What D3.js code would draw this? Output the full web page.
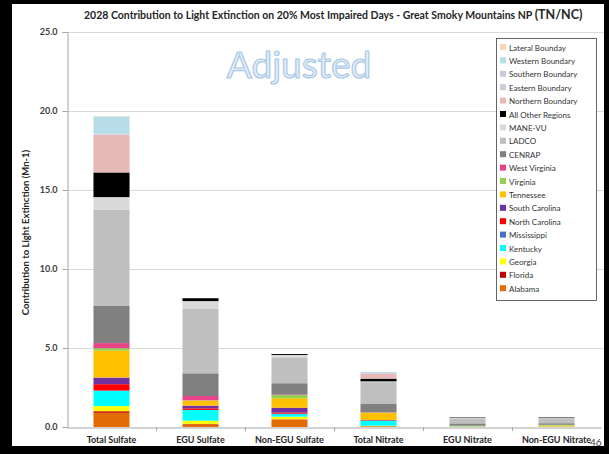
<!DOCTYPE html>
<html>
<head>
<meta charset="utf-8">
<script src="https://cdn.jsdelivr.net/npm/d3@7"></script>
<style>
  html, body { margin: 0; padding: 0; background: #000; }
  svg { display: block; }
  text { font-family: Lato, "Open Sans", "Liberation Sans", sans-serif; }
</style>
</head>
<body>
<svg id="chart" width="609" height="454"></svg>
<script>
// ---------------- DATA ----------------
const categories = ["Total Sulfate", "EGU Sulfate", "Non-EGU Sulfate", "Total Nitrate", "EGU Nitrate", "Non-EGU Nitrate"];

// series values per category (Mm-1), stacked bottom -> top in this order
const alabama        = [0.90, 0.18, 0.47, 0.05, 0.01, 0.01];
const florida        = [0.10, 0.02, 0.02, 0.00, 0.00, 0.00];
const georgia        = [0.32, 0.20, 0.16, 0.03, 0.00, 0.01];
const kentucky       = [0.97, 0.68, 0.17, 0.30, 0.03, 0.01];
const mississippi    = [0.02, 0.00, 0.02, 0.02, 0.00, 0.00];
const northCarolina  = [0.40, 0.10, 0.08, 0.02, 0.00, 0.00];
const southCarolina  = [0.42, 0.17, 0.30, 0.02, 0.00, 0.00];
const tennessee      = [1.71, 0.32, 0.60, 0.45, 0.03, 0.06];
const virginia       = [0.15, 0.02, 0.20, 0.03, 0.01, 0.04];
const westVirginia   = [0.32, 0.27, 0.04, 0.02, 0.00, 0.01];
const cenrap         = [2.38, 1.44, 0.71, 0.55, 0.15, 0.10];
const ladco          = [6.05, 4.07, 1.64, 1.35, 0.32, 0.32];
const manevu         = [0.81, 0.50, 0.15, 0.05, 0.02, 0.03];
const allOther       = [1.56, 0.18, 0.06, 0.17, 0.03, 0.03];
const northernBnd    = [2.38, 0.00, 0.00, 0.31, 0.00, 0.00];
const easternBnd     = [0.02, 0.00, 0.00, 0.02, 0.00, 0.00];
const southernBnd    = [0.05, 0.00, 0.00, 0.03, 0.00, 0.00];
const westernBnd     = [1.10, 0.00, 0.00, 0.06, 0.00, 0.00];
const lateralBnd     = [0.02, 0.00, 0.00, 0.00, 0.00, 0.00];

const seriesNames = ["Alabama", "Florida", "Georgia", "Kentucky", "Mississippi", "North Carolina",
  "South Carolina", "Tennessee", "Virginia", "West Virginia", "CENRAP", "LADCO", "MANE-VU",
  "All Other Regions", "Northern Boundary", "Eastern Boundary", "Southern Boundary",
  "Western Boundary", "Lateral Bounday"];
const seriesValues = [alabama, florida, georgia, kentucky, mississippi, northCarolina,
  southCarolina, tennessee, virginia, westVirginia, cenrap, ladco, manevu, allOther,
  northernBnd, easternBnd, southernBnd, westernBnd, lateralBnd];
const seriesColors = ["#E36C09", "#C00000", "#FFFF00", "#00FFFF", "#4472C4", "#FF0000",
  "#7030A0", "#FFC000", "#92D050", "#E8428A", "#808080", "#BFBFBF", "#D9D9D9",
  "#000000", "#E6B9B8", "#CCCCDC", "#C9C9D9", "#B7DDE8", "#FBD5B5"];

const yTicks = [0, 5, 10, 15, 20, 25];
const yMax = 25;

// ---------------- LAYOUT ----------------
const svg = d3.select("#chart");
const W = 609, H = 454;
const plot = { left: 67, right: 601, top: 32, bottom: 427 };

// frame
svg.append("rect").attr("x", 0).attr("y", 0).attr("width", W).attr("height", H).attr("fill", "#000");
svg.append("rect").attr("x", 12).attr("y", 4).attr("width", 592).attr("height", 442).attr("fill", "#fff");

const x = d3.scaleBand().domain(categories).range([plot.left, plot.right]).padding(0);
const y = d3.scaleLinear().domain([0, yMax]).range([plot.bottom, plot.top]);
const color = d3.scaleOrdinal().domain(seriesNames).range(seriesColors);
const barW = x.bandwidth() * 0.405;

// gridlines
svg.append("g").selectAll("line").data(yTicks.filter(d => d > 0)).join("line")
  .attr("x1", plot.left).attr("x2", 604)
  .attr("y1", d => Math.round(y(d)) + 0.5).attr("y2", d => Math.round(y(d)) + 0.5)
  .attr("stroke", "#D9D9D9").attr("stroke-width", 1);

// Watermark
svg.append("text")
  .attr("x", 299).attr("y", 78)
  .attr("text-anchor", "middle")
  .attr("font-size", 37)
  .attr("font-weight", 400)
  .attr("fill", "#E4EEF8")
  .attr("stroke", "#A9C8E6")
  .attr("stroke-width", 1.2)
  .text("Adjusted");

// stacked data
const rows = categories.map((c, i) => {
  const r = { category: c };
  seriesNames.forEach((s, k) => { r[s] = seriesValues[k][i]; });
  return r;
});
const stack = d3.stack().keys(seriesNames);
const stacked = stack(rows);

svg.append("g").selectAll("g").data(stacked).join("g")
  .attr("fill", d => color(d.key))
  .selectAll("rect").data(d => d).join("rect")
  .attr("x", d => x(d.data.category) + (x.bandwidth() - barW) / 2)
  .attr("width", barW)
  .attr("y", d => y(d[1]))
  .attr("height", d => Math.max(0, y(d[0]) - y(d[1])));

// Y axis
const yAxis = d3.axisLeft(y).tickValues(yTicks).tickFormat(d3.format(".1f")).tickSize(5).tickPadding(5);
const gy = svg.append("g").attr("transform", `translate(${plot.left + 0.5},0)`).call(yAxis);
gy.select(".domain").attr("stroke", "#A6A6A6");
gy.selectAll(".tick line").attr("stroke", "#A6A6A6");
gy.selectAll(".tick text").attr("font-size", 9).attr("font-weight", 700).attr("fill", "#404040")
  .attr("font-family", "Lato, sans-serif");

// X axis
const xAxis = d3.axisBottom(x).tickSize(0).tickPadding(9);
const gx = svg.append("g").attr("transform", `translate(0,${plot.bottom + 0.5})`).call(xAxis);
gx.select(".domain").attr("stroke", "#A6A6A6");
gx.selectAll(".tick text").attr("font-size", 9).attr("font-weight", 700).attr("fill", "#262626")
  .attr("font-family", "Lato, sans-serif");
// separator ticks between categories
svg.append("g").selectAll("line").data(categories.slice(1)).join("line")
  .attr("x1", d => Math.round(x(d)) + 0.5).attr("x2", d => Math.round(x(d)) + 0.5)
  .attr("y1", plot.bottom).attr("y2", plot.bottom + 4)
  .attr("stroke", "#A6A6A6");

// Y axis title
svg.append("text")
  .attr("transform", `translate(29,${(plot.top + plot.bottom) / 2 + 3}) rotate(-90)`)
  .attr("text-anchor", "middle")
  .attr("font-size", 9.5).attr("font-weight", 700).attr("fill", "#262626")
  .text("Contribution to Light Extinction (Mn-1)");

// Title
const title = svg.append("text").attr("x", 84).attr("y", 19)
  .attr("font-weight", 700).attr("fill", "#262626");
title.append("tspan").attr("font-size", 10.5)
  .text("2028 Contribution to Light Extinction on 20% Most Impaired Days - Great Smoky Mountains NP ");
title.append("tspan").attr("font-size", 12.5).text("(TN/NC)");

// Legend
const legendItems = seriesNames.slice().reverse();
const lg = svg.append("g");
lg.append("rect").attr("x", 496.5).attr("y", 38.5).attr("width", 100).attr("height", 262)
  .attr("fill", "#fff").attr("stroke", "#404040").attr("stroke-width", 0.8);
const li = lg.selectAll("g").data(legendItems).join("g")
  .attr("transform", (d, i) => `translate(500,${48 + i * 13.4})`);
li.append("rect").attr("x", 0).attr("y", -4).attr("width", 6).attr("height", 6)
  .attr("fill", d => color(d));
li.append("text").attr("x", 9).attr("y", 2.5)
  .attr("font-size", 8).attr("fill", "#333")
  .text(d => d);

// page number
svg.append("text").attr("x", 590).attr("y", 446).attr("font-size", 10).attr("fill", "#404040").text("46");
</script>
</body>
</html>
